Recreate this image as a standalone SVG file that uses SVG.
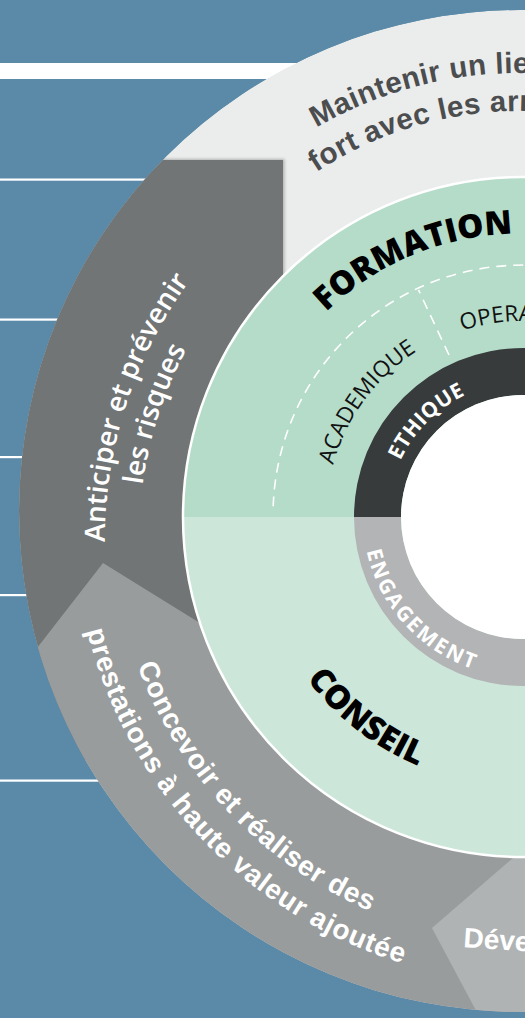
<svg xmlns="http://www.w3.org/2000/svg" width="525" height="1018" viewBox="0 0 525 1018">
<style>
.wl{fill:#ffffff}
.out{font-family:"Liberation Sans",Arial,sans-serif;font-weight:bold;font-size:28px}
.main{font-size:29.5px;letter-spacing:0.4px}
.ant{font-family:"Open Sans","DejaVu Sans",sans-serif;font-weight:600;font-size:28px;fill:#ffffff}
.big{font-family:"Open Sans","DejaVu Sans",sans-serif;font-weight:800;font-size:33px;fill:#000000}
.sub{font-family:"Open Sans","DejaVu Sans",sans-serif;font-weight:400;font-size:22.5px;fill:#111111}
.ring{font-family:"Open Sans","DejaVu Sans",sans-serif;font-weight:700;font-size:21px;fill:#ffffff}
.dash{fill:none;stroke:#ffffff;stroke-width:1.6;stroke-dasharray:10 7}
</style>
<defs>
<clipPath id="outer"><circle cx="520" cy="511" r="501"/></clipPath>
<filter id="sh" x="-20%" y="-20%" width="140%" height="140%"><feDropShadow dx="1.5" dy="-1" stdDeviation="1.5" flood-color="#000000" flood-opacity="0.25"/></filter>
<path id="p-main1" d="M316.5,127.5 A407,407 0 0 1 902.5,340.8"/>
<path id="p-main2" d="M316.3,172.3 A369,369 0 0 1 866.7,353.8"/>
<path id="p-ant1" d="M321,919.3 A440,440 0 0 1 585.8,102.4"/>
<path id="p-ant2" d="M338,890 A406,406 0 0 1 582.5,136.3"/>
<path id="p-con1" d="M186.3,275.6 A428,428 0 0 0 762.6,882.9"/>
<path id="p-con2" d="M155,254.1 A466,466 0 0 0 782.5,915.3"/>
<path id="p-form" d="M245.4,566.6 A280,280 0 0 1 750.8,354.6"/>
<path id="p-opera" d="M462.1,330.7 A196,196 0 0 1 707.2,450"/>
<path id="p-acad" d="M375.9,648 A197,197 0 0 1 604.1,337.5"/>
<path id="p-eth" d="M410.1,591 A135,135 0 0 1 596,403.5"/>
<path id="p-eng" d="M392.9,423.9 A160,160 0 0 0 604,655"/>
<path id="p-cons" d="M280.3,398.6 A270,270 0 0 0 696.6,723.8"/>
</defs>
<rect id="background" x="0" y="0" width="525" height="1018" fill="#5a8aa8"/>
<g id="side-lines">
<rect class="wl" x="0" y="63" width="320" height="16"/>
<rect class="wl" x="0" y="178.5" width="200" height="2.2"/>
<rect class="wl" x="0" y="318.5" width="120" height="2.2"/>
<rect class="wl" x="0" y="456" width="60" height="2.2"/>
<rect class="wl" x="0" y="594" width="60" height="2.2"/>
<rect class="wl" x="0" y="779.5" width="150" height="2.2"/>
</g>
<g clip-path="url(#outer)">
<g id="seg-maintenir">
<circle cx="520" cy="511" r="501" fill="#ebecec"/>
</g>
<g id="seg-anticiper">
<path d="M-10,160 H283 V760 H-10 Z" fill="#717476" filter="url(#sh)"/>
</g>
<g id="seg-concevoir">
<path d="M-10,708.5 L103,563 L400,747 L600,747 L600,1100 L-10,1100 Z" fill="#999c9d"/>
</g>
<g id="seg-developper">
<path d="M432,928 L594,788 L600,788 L600,1108 L528,1108 Z" fill="#b0b3b4"/>
</g>
</g>
<g id="labels-outer">
<text class="out main" fill="#4b4d4f"><textPath href="#p-main1">Maintenir un lien</textPath></text>
<text class="out main" fill="#4b4d4f"><textPath href="#p-main2">fort avec les arm</textPath></text>
<text class="ant" text-anchor="middle"><textPath href="#p-ant1" startOffset="50%">Anticiper et prévenir</textPath></text>
<text class="ant" text-anchor="middle"><textPath href="#p-ant2" startOffset="50%">les risques</textPath></text>
<text class="out" fill="#ffffff" text-anchor="middle" letter-spacing="0.6"><textPath href="#p-con1" startOffset="50%">Concevoir et réaliser des</textPath></text>
<text class="out" fill="#ffffff" text-anchor="middle" letter-spacing="0.8"><textPath href="#p-con2" startOffset="50%">prestations à haute valeur ajoutée</textPath></text>
<text class="out" fill="#ffffff" x="463" y="947" transform="rotate(4 463 947)">Déve</text>
</g>
<g id="core-formation">
<path d="M183,517 A340,340 0 0 1 863,517 Z" fill="#b4dcc9"/>
<path class="dash" d="M273.2,506.3 A250,250 0 0 1 648,298.5"/>
<path class="dash" d="M449,355 L418.5,289.9"/>
<text class="big" text-anchor="middle"><textPath href="#p-form" startOffset="50%">FORMATION</textPath></text>
<text class="sub"><textPath href="#p-opera">OPERA</textPath></text>
<text class="sub" text-anchor="middle"><textPath href="#p-acad" startOffset="50%">ACADEMIQUE</textPath></text>
</g>
<g id="core-conseil">
<path d="M183,517 A340,340 0 0 0 863,517 Z" fill="#cde6da"/>
<text class="big" text-anchor="middle"><textPath href="#p-cons" startOffset="50%">CONSEIL</textPath></text>
</g>
<circle cx="523" cy="517" r="340" fill="none" stroke="#ffffff" stroke-width="2.5"/>
<g id="ring-ethique">
<path d="M354,517 A169,169 0 0 1 692,517 L645,517 A122,122 0 0 0 401,517 Z" fill="#373b3c"/>
<text class="ring" text-anchor="middle" letter-spacing="0.5"><textPath href="#p-eth" startOffset="50%">ETHIQUE</textPath></text>
</g>
<g id="ring-engagement">
<path d="M354,517 A169,169 0 0 0 692,517 L645,517 A122,122 0 0 1 401,517 Z" fill="#b2b4b5"/>
<text class="ring" text-anchor="middle" letter-spacing="2.2"><textPath href="#p-eng" startOffset="50%">ENGAGEMENT</textPath></text>
</g>
<circle id="center" cx="523" cy="517" r="122" fill="#ffffff"/>
<g id="connectors"/>
</svg>
